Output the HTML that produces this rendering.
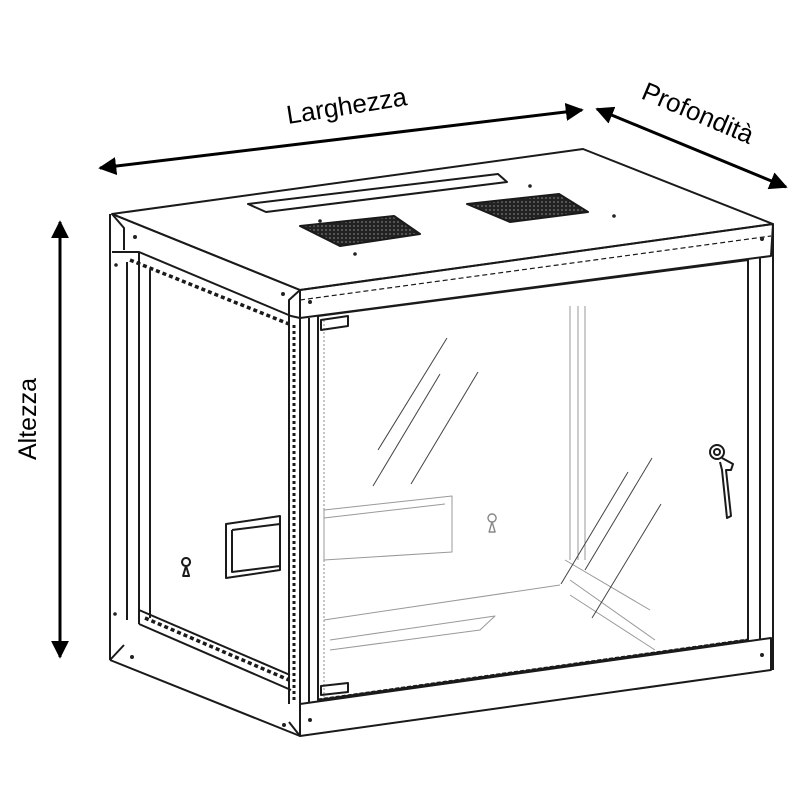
<!DOCTYPE html>
<html><head><meta charset="utf-8"><style>html,body{margin:0;padding:0;background:#fff}svg{display:block}</style></head>
<body>
<svg width="800" height="800" viewBox="0 0 800 800" xmlns="http://www.w3.org/2000/svg" font-family="Liberation Sans, sans-serif">
<defs>
<marker id="ah" viewBox="0 0 10 10" refX="9" refY="5" markerWidth="6" markerHeight="6" orient="auto-start-reverse"><path d="M0,0 L10,5 L0,10 z" fill="#000"/></marker>
<pattern id="mesh" width="4" height="4" patternUnits="userSpaceOnUse"><rect width="4" height="4" fill="#222"/><circle cx="2" cy="2" r="0.9" fill="#777"/></pattern>
</defs>
<line x1="100" y1="168" x2="582" y2="110" stroke="#000" stroke-width="3" marker-start="url(#ah)" marker-end="url(#ah)"/>
<line x1="597" y1="109" x2="786" y2="187" stroke="#000" stroke-width="3" marker-start="url(#ah)" marker-end="url(#ah)"/>
<line x1="60" y1="222" x2="60" y2="657" stroke="#000" stroke-width="3" marker-start="url(#ah)" marker-end="url(#ah)"/>
<text x="0" y="0" font-size="26" transform="translate(288,124) rotate(-9)">Larghezza</text>
<text x="0" y="0" font-size="26" transform="translate(640,98) rotate(23)">Profondità</text>
<text x="0" y="0" font-size="25" transform="translate(36,460) rotate(-90)">Altezza</text>

<g fill="none" stroke="#1a1a1a" stroke-width="2" stroke-linejoin="round">
<path d="M112,214 L583,149 L773,224 L300,290 Z" fill="#fff"/>
<path d="M248,204 L498,174 L507,182 L266,212 Z"/>
<path d="M300,226 L394,216 L420,234 L340,246 Z" fill="url(#mesh)"/>
<path d="M467,204 L559,194 L588,212 L510,222 Z" fill="url(#mesh)"/>
<path d="M300,290 L773,224 L771,256 L300,318 Z"/>
<path d="M112,214 L300,290 L300,318 L291,316 L139,252 L112,252"/>
<path d="M112,214 L124,228 L124,250"/>
<path d="M300,290 L289,300 L289,318"/>
<line x1="130" y1="260" x2="289" y2="324" stroke-dasharray="4 3" stroke-width="3.5"/>
<path d="M110,214 L110,660 M139,252 L139,624 M127,262 L127,620 M150,270 L150,618"/>
<path d="M110,660 L300,736 M139,624 L291,690 M139,610 L290,675"/>
<path d="M110,660 L124,645 M300,736 L289,722"/>
<line x1="145" y1="618" x2="289" y2="680" stroke-dasharray="4 3" stroke-width="3.5"/>
<path d="M289,318 L289,704 M300,318 L300,736 M318,316 L318,700 M309,318 L309,702"/>
<line x1="294" y1="325" x2="294" y2="700" stroke-dasharray="3 3" stroke-width="3"/>
<path d="M318,316 L748,260 L748,640 L318,700 Z"/>
<line x1="324" y1="320" x2="324" y2="697" stroke="#888" stroke-width="1" stroke-dasharray="2 2"/>
<path d="M321,320 L348,316 L348,326 L321,330 Z"/>
<path d="M321,686 L348,683 L348,692 L321,695 Z"/>
<path d="M773,224 L773,670 M748,260 L748,640 M760,258 L760,640"/>
<path d="M300,704 L771,638 L771,670 L300,736 Z"/>
<line x1="318" y1="700" x2="748" y2="640" stroke-dasharray="4 2" stroke-width="3"/>
<line x1="300" y1="300" x2="771" y2="236" stroke-dasharray="5 3" stroke-width="1.2"/>
<path d="M226,524 L280,516 L280,570 L226,578 Z M232,530 L280,524 M232,530 L232,572 L280,566"/>
<path d="M186,566 a4,4 0 1 1 0.1,0 l3,10 h-6 z"/>
<path d="M492,522 a4,4 0 1 1 0.1,0 l3,10 h-6 z" stroke="#888" stroke-width="1.4"/>
<g stroke="#999" stroke-width="1">
<path d="M570,306 L570,560 M578,306 L578,560 M585,306 L585,560"/>
<path d="M324,510 L452,496 L452,552 L324,560 Z M324,518 L445,504"/>
<path d="M324,620 L560,585 M330,640 L495,616 L480,630 L330,650"/>
<path d="M570,580 L655,640 M570,595 L655,650 M565,560 L650,610"/>
</g>
<g stroke="#444" stroke-width="1">
<path d="M447,338 L378,450 M440,374 L373,486 M478,372 L411,484"/>
<path d="M628,472 L561,584 M652,458 L585,570 M661,504 L592,618"/>
</g>
<circle cx="717" cy="452" r="7"/><circle cx="717" cy="452" r="3"/>
<path d="M722,458 L733,464 L731,470 L726,470 L731,516 L727,518 L722,470 L720,462"/>
<g fill="#222" stroke="none">
<circle cx="135" cy="237" r="2"/><circle cx="283" cy="294" r="2"/><circle cx="310" cy="302" r="2"/><circle cx="762" cy="239" r="2"/>
<circle cx="320" cy="221" r="1.8"/><circle cx="355" cy="254" r="1.8"/><circle cx="530" cy="186" r="1.8"/><circle cx="614" cy="216" r="1.8"/>
<circle cx="310" cy="720" r="2"/><circle cx="762" cy="655" r="2"/><circle cx="132" cy="657" r="2"/><circle cx="284" cy="725" r="2"/>
<circle cx="116" cy="265" r="1.8"/><circle cx="115" cy="614" r="1.8"/>
</g>
</g>
</svg>
</body></html>
